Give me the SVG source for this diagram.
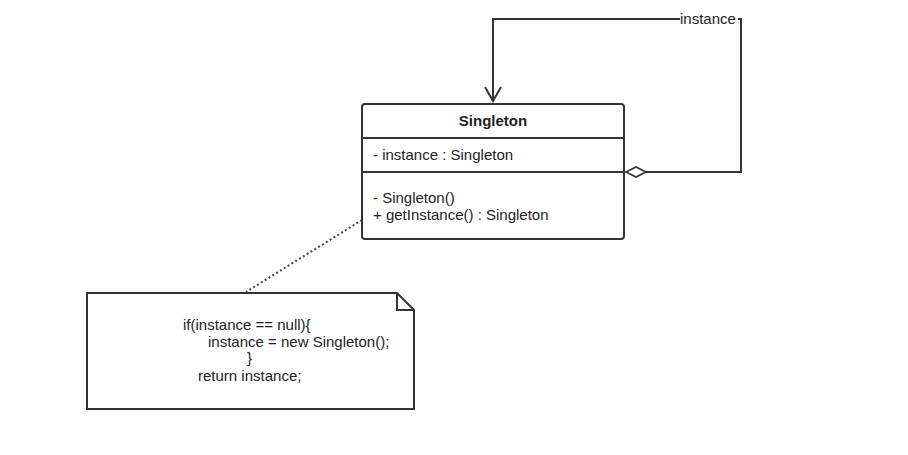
<svg xmlns="http://www.w3.org/2000/svg" width="908" height="455" viewBox="0 0 908 455">
<style>
  .ln{fill:none;stroke:#333;stroke-width:2}
  .t{font-family:"Liberation Sans",Arial,sans-serif;font-size:15px;fill:#222}
  .b{font-weight:bold;text-anchor:middle;font-size:15px}
</style>
<rect width="908" height="455" fill="#fff"/>
<g id="connectors">
  <polyline class="ln" points="645,172 741,172 741,19 738,19"/>
  <polyline class="ln" points="680,19 493,19 493,101"/>
  <polyline class="ln" points="485,87 493,101 501,87"/>
  <polygon points="626,172 636,167 646,172 636,177" fill="#fff" stroke="#333" stroke-width="1.6"/>
  <text class="t" x="680" y="24">instance</text>
  <line x1="362" y1="220" x2="246" y2="292" stroke="#444" stroke-width="2" stroke-dasharray="2,2.5"/>
</g>
<g id="singleton">
  <rect class="ln" x="362" y="104" width="262" height="135" rx="3" fill="#fff"/>
  <line class="ln" x1="362" y1="138" x2="624" y2="138"/>
  <line class="ln" x1="362" y1="172" x2="624" y2="172"/>
  <text class="t b" x="493" y="126">Singleton</text>
  <text class="t" x="373" y="160">- instance : Singleton</text>
  <text class="t" x="373" y="203">- Singleton()</text>
  <text class="t" x="373" y="220">+ getInstance() : Singleton</text>
</g>
<g id="note">
  <polygon class="ln" points="87,293 397,293 414,310 414,409 87,409" fill="#fff"/>
  <polyline class="ln" points="397,293 397,310 414,310"/>
  <text class="t" x="183" y="330">if(instance == null){</text>
  <text class="t" x="208" y="347">instance = new Singleton();</text>
  <text class="t" x="247" y="363">}</text>
  <text class="t" x="198" y="381">return instance;</text>
</g>
</svg>
